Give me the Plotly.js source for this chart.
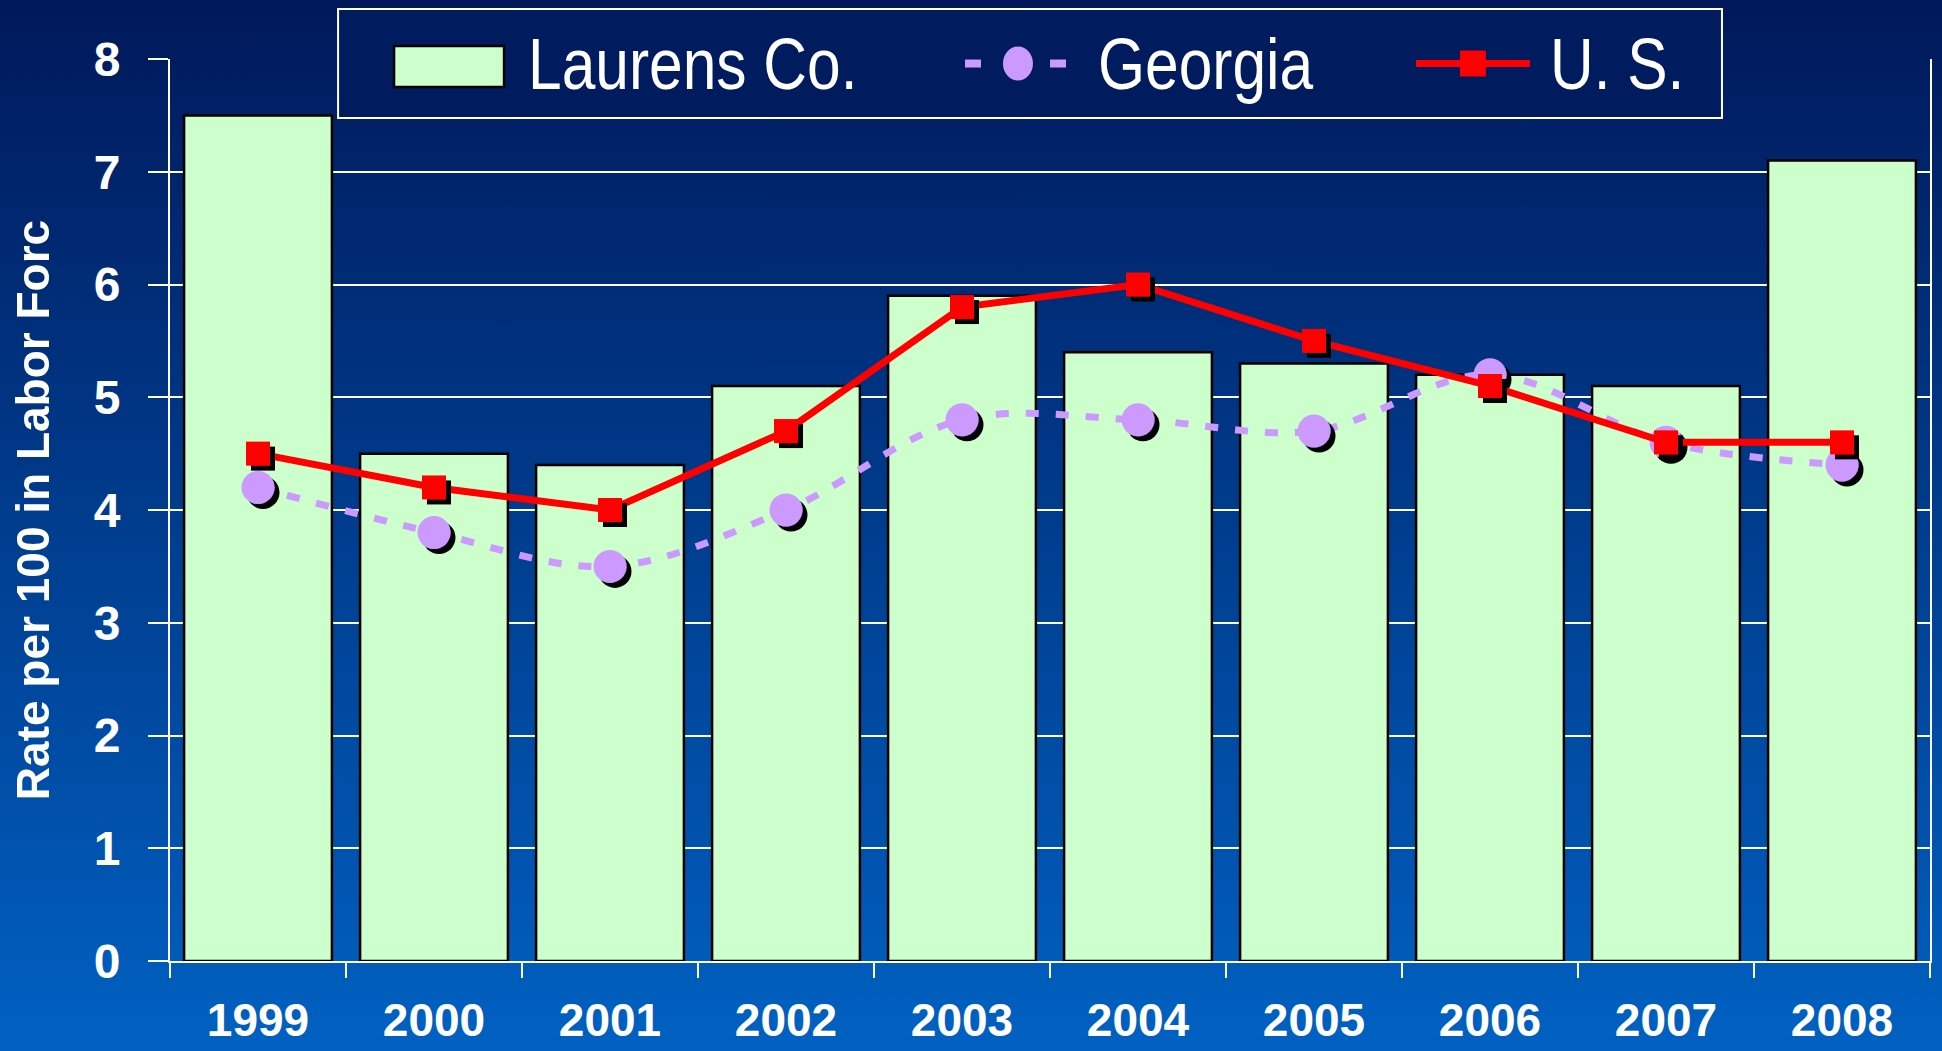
<!DOCTYPE html>
<html>
<head>
<meta charset="utf-8">
<script src="https://cdn.plot.ly/plotly-3.0.1.min.js"></script>
<style>
  html, body { margin: 0; padding: 0; }
  #chart {
    width: 1942px; height: 1051px;
    background: linear-gradient(to bottom, #00185A 0%, #0061C2 100%);
  }
</style>
</head>
<body>
<div id="chart"></div>
<script>
// ---- data ----
const years = ['1999', '2000', '2001', '2002', '2003', '2004', '2005', '2006', '2007', '2008'];
const laurens = [7.5, 4.5, 4.4, 5.1, 5.9, 5.4, 5.3, 5.2, 5.1, 7.1];
const georgia = [4.2, 3.8, 3.5, 4.0, 4.8, 4.8, 4.7, 5.2, 4.6, 4.4];
const us = [4.5, 4.2, 4.0, 4.7, 5.8, 6.0, 5.5, 5.1, 4.6, 4.6];
const seriesNames = ['Laurens Co.', 'Georgia', 'U. S.'];
const yTitle = 'Rate per 100 in Labor Forc';

const BOLD = { family: 'Liberation Sans, Arial, sans-serif', weight: 'bold', color: '#FFFFFF' };
const GREEN = '#CCFFCC', LAV = '#CC99FF', RED = '#FF0000';

const data = [
  {
    type: 'bar', name: seriesNames[0], x: years, y: laurens,
    marker: { color: GREEN, line: { color: '#000000', width: 2.5 } },
    showlegend: false
  },
  {
    type: 'scatter', mode: 'lines+markers', name: seriesNames[1], x: years, y: georgia,
    line: { color: LAV, width: 7, dash: '13px,17px', shape: 'spline', smoothing: 1 },
    marker: { symbol: 'circle', size: 33, color: LAV, line: { width: 0 } },
    showlegend: false
  },
  {
    type: 'scatter', mode: 'lines+markers', name: seriesNames[2], x: years, y: us,
    line: { color: RED, width: 7 },
    marker: { symbol: 'square', size: 24, color: RED, line: { width: 0 } },
    showlegend: false
  }
];

// legend geometry (paper coords of the plot area)
const LEG_Y = 0.995;
const shapes = [
  { type: 'rect', xref: 'paper', yref: 'paper', x0: 0.0955, x1: 0.8818, y0: 0.9346, y1: 1.0554,
    line: { color: '#FFFFFF', width: 2 }, fillcolor: '#001B5E', layer: 'above' },
  { type: 'rect', xref: 'paper', yref: 'paper', x0: 0.1273, x1: 0.1898, y0: 0.9690, y1: 1.0144,
    line: { color: '#000000', width: 2.5 }, fillcolor: GREEN, layer: 'above' },
  { type: 'line', xref: 'paper', yref: 'paper', x0: 0.4517, x1: 0.4608, y0: LEG_Y, y1: LEG_Y,
    line: { color: LAV, width: 8 }, layer: 'above' },
  { type: 'line', xref: 'paper', yref: 'paper', x0: 0.5000, x1: 0.5091, y0: LEG_Y, y1: LEG_Y,
    line: { color: LAV, width: 8 }, layer: 'above' },
  { type: 'circle', xref: 'paper', yref: 'paper', xsizemode: 'pixel', ysizemode: 'pixel',
    xanchor: 0.4818, yanchor: LEG_Y, x0: -15, x1: 15, y0: -17, y1: 17,
    line: { width: 0 }, fillcolor: LAV, layer: 'above' },
  { type: 'line', xref: 'paper', yref: 'paper', x0: 0.7080, x1: 0.7727, y0: LEG_Y, y1: LEG_Y,
    line: { color: RED, width: 7 }, layer: 'above' },
  { type: 'rect', xref: 'paper', yref: 'paper', xsizemode: 'pixel', ysizemode: 'pixel',
    xanchor: 0.7403, yanchor: LEG_Y, x0: -13, x1: 13, y0: -13, y1: 13,
    line: { width: 0 }, fillcolor: RED, layer: 'above' }
];

const legFont = { family: 'Liberation Sans, Arial, sans-serif', size: 72, color: '#FFFFFF' };
const annotations = [
  { text: seriesNames[0], x: 0.2023 },
  { text: seriesNames[1], x: 0.5261 },
  { text: seriesNames[2], x: 0.7830 }
].map(a => Object.assign({ xref: 'paper', yref: 'paper', y: LEG_Y, yanchor: 'middle',
  xanchor: 'left', align: 'left', showarrow: false, font: legFont }, a));

const layout = {
  width: 1942, height: 1051,
  margin: { l: 170, r: 12, t: 59, b: 90, pad: 0 },
  paper_bgcolor: 'rgba(0,0,0,0)', plot_bgcolor: 'rgba(0,0,0,0)',
  showlegend: false,
  bargap: 0.16,
  xaxis: {
    type: 'category', tickson: 'boundaries', range: [-0.5, 9.5],
    ticks: 'outside', ticklen: 15, tickwidth: 2, tickcolor: '#FFFFFF',
    showline: true, linecolor: '#FFFFFF', linewidth: 2,
    showgrid: false, zeroline: false,
    tickfont: Object.assign({ size: 46 }, BOLD),
    ticklabelstandoff: 18
  },
  xaxis2: {
    overlaying: 'x', anchor: 'y', range: [-0.5, 9.5], tick0: -0.5, dtick: 1,
    ticks: 'inside', ticklen: 15, tickwidth: 2, tickcolor: '#FFFFFF',
    showticklabels: false, showgrid: false, zeroline: false, showline: false
  },
  yaxis: {
    range: [0, 8], dtick: 1, tick0: 0,
    ticks: 'outside', ticklen: 20, tickwidth: 2, tickcolor: '#FFFFFF',
    showline: true, mirror: true, linecolor: '#FFFFFF', linewidth: 2,
    showgrid: true, gridcolor: '#FFFFFF', gridwidth: 2, zeroline: false,
    tickfont: Object.assign({ size: 48 }, BOLD),
    ticklabelstandoff: 18,
    title: { text: yTitle, font: Object.assign({ size: 46 }, BOLD), standoff: 30 }
  },
  shapes: shapes,
  annotations: annotations
};

const gd = document.getElementById('chart');
Plotly.newPlot(gd, data, layout, { staticPlot: true, displayModeBar: false }).then(() => {
  const ns = 'http://www.w3.org/2000/svg';
  const svg = gd.querySelector('svg.main-svg');
  let defs = svg.querySelector('defs');
  if (!defs) { defs = document.createElementNS(ns, 'defs'); svg.insertBefore(defs, svg.firstChild); }
  const f = document.createElementNS(ns, 'filter');
  f.setAttribute('id', 'mshadow');
  f.setAttribute('filterUnits', 'userSpaceOnUse');
  f.setAttribute('x', '-200'); f.setAttribute('y', '-200');
  f.setAttribute('width', '2400'); f.setAttribute('height', '1500');
  f.innerHTML = '<feFlood flood-color="#000000" flood-opacity="1" result="flood"/>' +
    '<feComposite in="flood" in2="SourceAlpha" operator="in" result="shape"/>' +
    '<feOffset in="shape" dx="5" dy="5" result="shadow"/>' +
    '<feMerge><feMergeNode in="shadow"/><feMergeNode in="SourceGraphic"/></feMerge>';
  defs.appendChild(f);
  gd.querySelectorAll('.scatterlayer .trace .points').forEach(g => g.setAttribute('filter', 'url(#mshadow)'));
  // narrow (Arial Narrow-like) legend lettering
  gd.querySelectorAll('.annotation-text').forEach(t => {
    const len = t.getComputedTextLength();
    t.setAttribute('textLength', (len * 0.84).toFixed(1));
    t.setAttribute('lengthAdjust', 'spacingAndGlyphs');
  });
});
</script>
</body>
</html>
